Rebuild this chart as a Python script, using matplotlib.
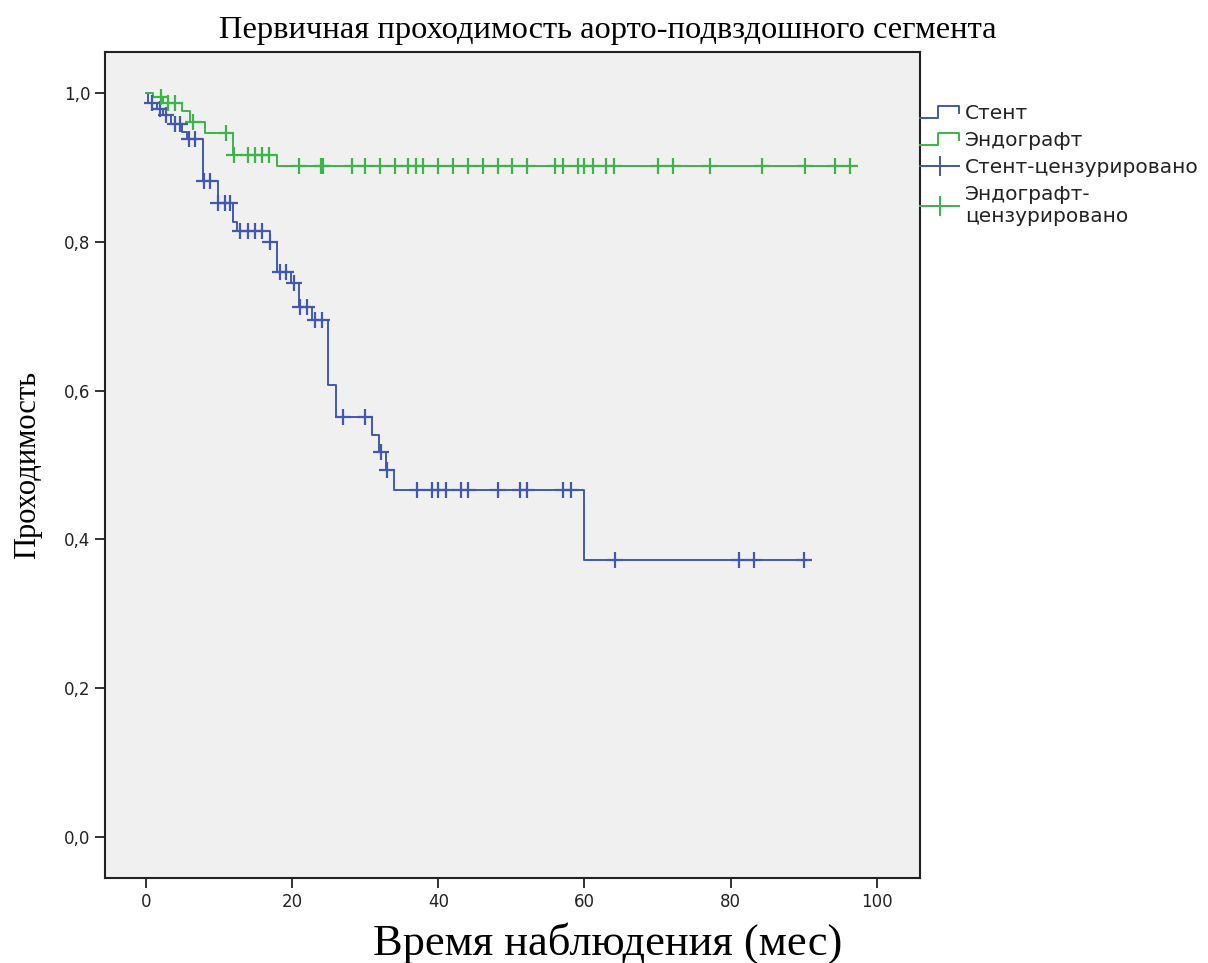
import matplotlib
matplotlib.use("agg")
import matplotlib.pyplot as plt
import numpy as np
from matplotlib.lines import Line2D
from matplotlib.legend_handler import HandlerBase

# Kaplan-Meier steps: event times and survival after each event
stent_times = [0.3, 1.5, 2.4, 3.4, 5.0, 5.6, 7.8, 9.8, 11.9, 12.4, 17.0, 18.0,
               19.8, 21.0, 22.7, 24.9, 26.0, 30.9, 31.9, 32.8, 34.0, 60.0]
stent_surv = [0.986, 0.978, 0.970, 0.958, 0.948, 0.938, 0.882, 0.852, 0.827, 0.815,
              0.800, 0.759, 0.745, 0.712, 0.695, 0.607, 0.565, 0.540, 0.517, 0.493,
              0.466, 0.372]
stent_cens = [0.8, 1.9, 2.7, 4.0, 4.7, 5.9, 6.7, 7.9, 8.8, 9.9, 10.8, 11.5,
              12.9, 14.0, 14.9, 15.9, 17.0, 18.3, 19.1, 20.2, 21.1, 22.0, 23.1,
              24.1, 27.0, 30.0, 32.2, 33.0, 37.1, 39.1, 40.0, 41.0, 43.1, 44.0,
              48.2, 51.2, 52.1, 57.0, 58.1, 64.2, 81.1, 83.2, 90.0]
stent_end = 90.0

graft_times = [1.0, 2.3, 4.9, 6.0, 8.1, 11.9, 17.9]
graft_surv = [0.995, 0.987, 0.976, 0.961, 0.946, 0.917, 0.902]
graft_cens = [2.0, 3.0, 4.0, 6.5, 11.0, 12.1, 14.0, 14.9, 15.9, 16.9, 20.9,
              24.0, 24.2, 28.2, 30.0, 32.0, 34.1, 35.9, 37.0, 37.9, 40.0, 42.0,
              44.1, 46.1, 48.1, 50.1, 52.1, 56.0, 57.0, 59.1, 60.0, 61.1, 63.0,
              64.1, 70.0, 72.1, 77.2, 84.3, 90.2, 94.3, 96.3]
graft_end = 96.3

blue = '#4058b0'
green = '#3cb449'


def step_xy(times, surv, end):
    return [0.0] + times + [end], [1.0] + surv + [surv[-1]]


def value_at(times, surv, t):
    idx = np.searchsorted(times, t, side='right')
    return np.array([1.0] + surv)[idx]


class StepHandler(HandlerBase):
    def create_artists(self, legend, orig_handle, xdescent, ydescent,
                       width, height, fontsize, trans):
        x0, y0 = -xdescent, -ydescent
        lo, hi = y0 + 0.1 * height, y0 + 0.9 * height
        xs = [x0, x0 + 0.45 * width, x0 + 0.45 * width, x0 + width, x0 + width]
        ys = [lo, lo, hi, hi, lo + 0.3 * height]
        ln = Line2D(xs, ys, color=orig_handle.get_color(),
                    lw=orig_handle.get_linewidth())
        ln.set_transform(trans)
        return [ln]


plt.rcParams['font.family'] = 'DejaVu Sans'

fig = plt.figure(figsize=(12.08, 9.63), dpi=100)
ax = fig.add_axes([0.0869, 0.0883, 0.6747, 0.8577])
ax.set_facecolor('#f0f0f0')

sx, sy = step_xy(stent_times, stent_surv, stent_end)
gx, gy = step_xy(graft_times, graft_surv, graft_end)
ax.step(sx, sy, where='post', color=blue, lw=1.4)
ax.step(gx, gy, where='post', color=green, lw=1.4)
ax.plot(stent_cens, value_at(stent_times, stent_surv, stent_cens), ls='none',
        marker='+', ms=11, mew=1.6, color=blue)
ax.plot(graft_cens, value_at(graft_times, graft_surv, graft_cens), ls='none',
        marker='+', ms=11, mew=1.6, color=green)

ax.set_xlim(-5.6, 105.9)
ax.set_ylim(-0.055, 1.055)
ax.set_xticks([0, 20, 40, 60, 80, 100])
ax.set_yticks([0.0, 0.2, 0.4, 0.6, 0.8, 1.0])
ax.set_yticklabels(['0,0', '0,2', '0,4', '0,6', '0,8', '1,0'])
ax.tick_params(direction='out', length=7, width=1.3, labelsize=12,
               colors='#222222', top=False, right=False)
for s in ax.spines.values():
    s.set_linewidth(1.5)
    s.set_color('#222222')

serif = 'Liberation Serif'
ax.set_title('Первичная проходимость аорто-подвздошного сегмента',
             family=serif, fontsize=23.4, pad=10, x=0.617)
ax.set_xlabel('Время наблюдения (мес)', family=serif, fontsize=32)
ax.xaxis.set_label_coords(0.617, -0.053)
ax.set_ylabel('Проходимость', family=serif, fontsize=22, labelpad=16)

handles = [Line2D([], [], color=blue, lw=1.4),
           Line2D([], [], color=green, lw=1.4),
           Line2D([], [], color=blue, lw=1.4, marker='+', ms=14, mew=1.4),
           Line2D([], [], color=green, lw=1.4, marker='+', ms=14, mew=1.4)]
labels = ['Стент', 'Эндографт', 'Стент-цензурировано', 'Эндографт-\nцензурировано']
ax.legend(handles, labels, loc='upper left', bbox_to_anchor=(1.0, 0.937),
          frameon=False, borderaxespad=0, borderpad=0, handlelength=1.95,
          handletextpad=0.3, labelspacing=0.4, fontsize=14.5,
          labelcolor='#222222',
          handler_map={handles[0]: StepHandler(), handles[1]: StepHandler()})

plt.savefig('out.png', format='png')
plt.close()
